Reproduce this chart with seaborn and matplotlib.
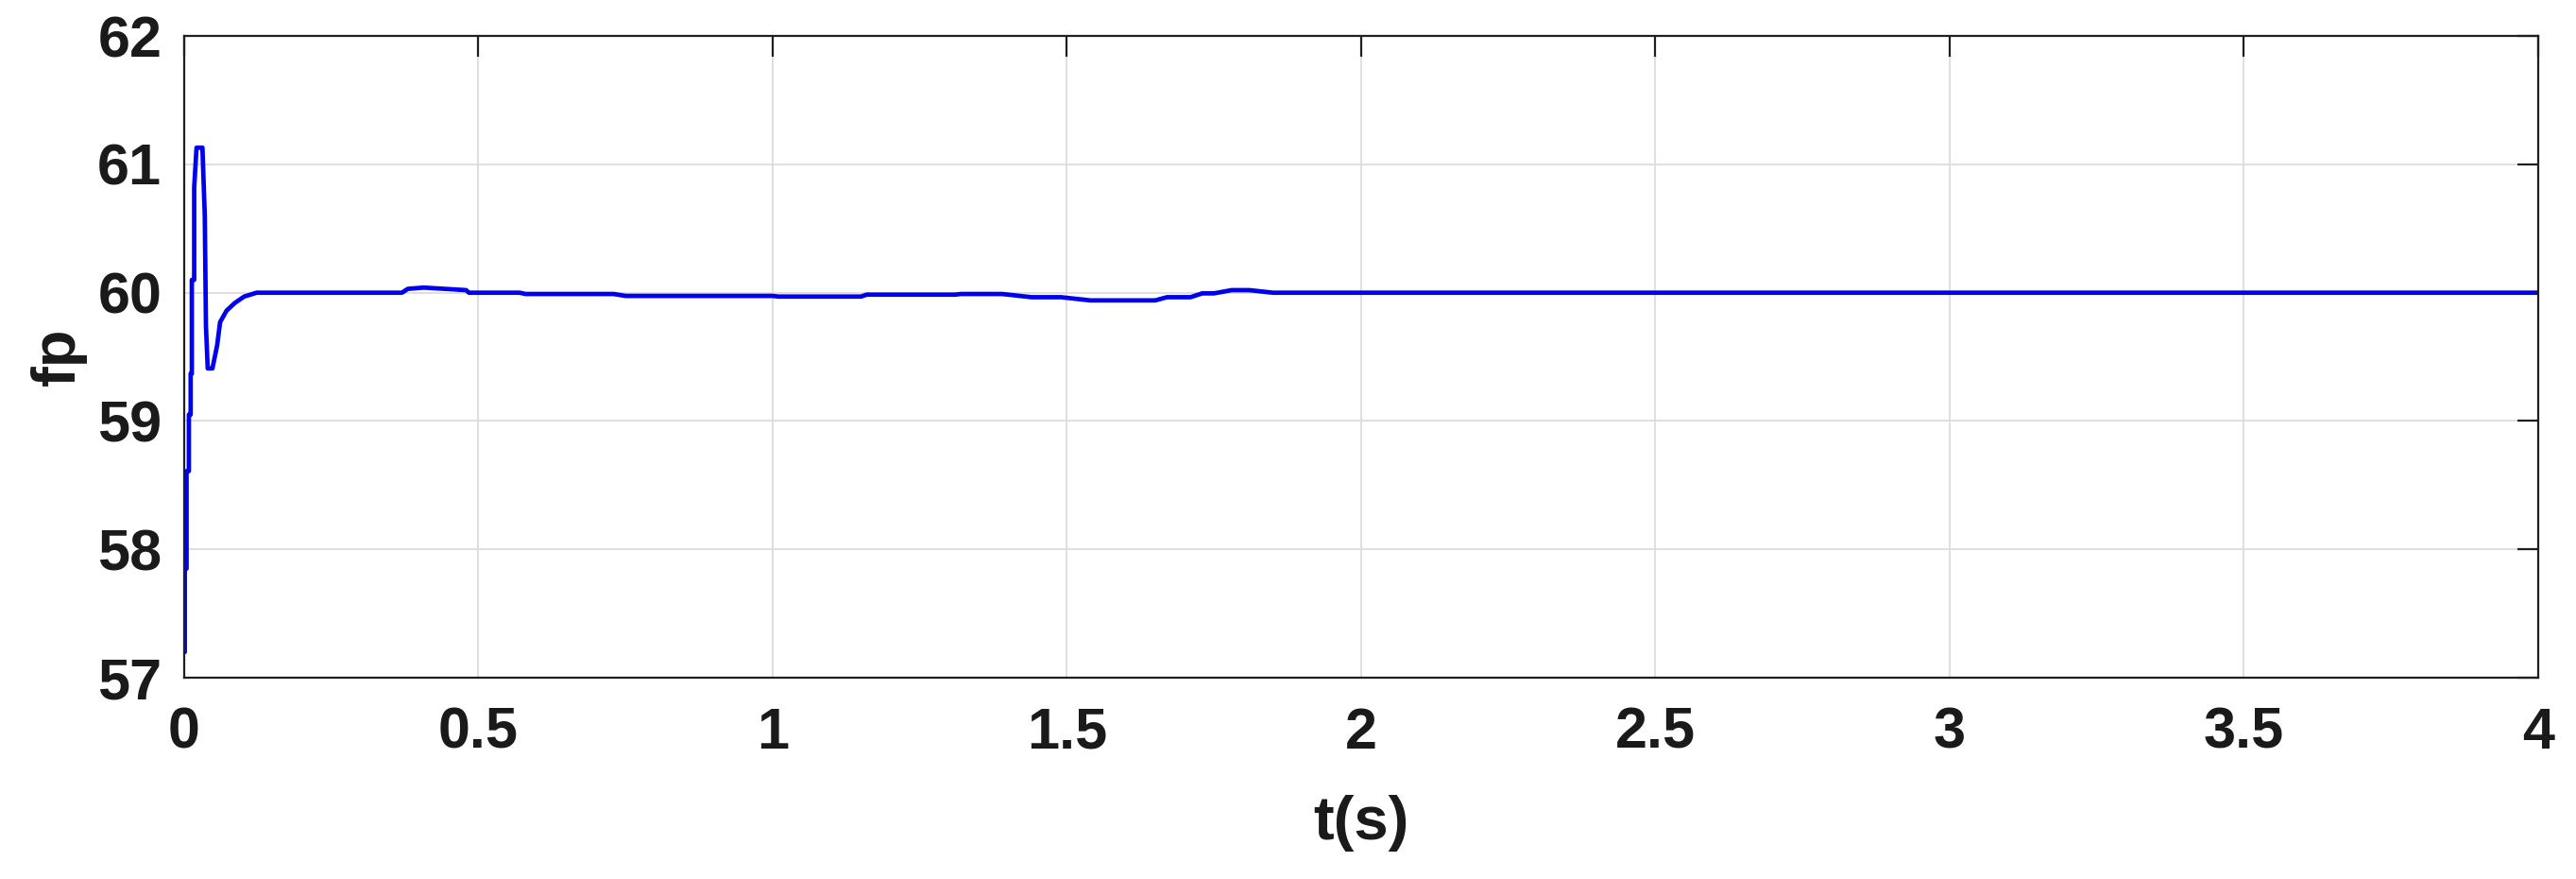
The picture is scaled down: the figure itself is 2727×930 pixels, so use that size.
import numpy as np
import pandas as pd
import matplotlib
matplotlib.use("Agg")
import matplotlib.pyplot as plt
import seaborn as sns

# frequency response (t in s, fp in Hz)
t_vals = [0.0, 0.001, 0.001, 0.004, 0.004, 0.008, 0.008, 0.011, 0.011, 0.013,
          0.013, 0.017, 0.017, 0.021, 0.031, 0.035, 0.037, 0.040, 0.048, 0.056,
          0.061, 0.072, 0.086, 0.102, 0.123, 0.246, 0.37, 0.38, 0.407, 0.479,
          0.484, 0.57, 0.58, 0.73, 0.75, 1.0, 1.01, 1.15, 1.16, 1.31,
          1.32, 1.39, 1.44, 1.49, 1.54, 1.65, 1.67, 1.71, 1.73, 1.75,
          1.78, 1.81, 1.85, 1.92, 2.5, 3.0, 3.5, 4.0]
fp_vals = [57.20, 57.20, 57.85, 57.85, 58.61, 58.61, 59.05, 59.05, 59.37, 59.37,
           60.10, 60.10, 60.82, 61.13, 61.13, 60.60, 59.74, 59.41, 59.41, 59.59,
           59.77, 59.86, 59.92, 59.97, 60.0, 60.0, 60.0, 60.03, 60.04, 60.02,
           60.0, 60.0, 59.99, 59.99, 59.975, 59.975, 59.97, 59.97, 59.985, 59.985,
           59.99, 59.99, 59.965, 59.965, 59.94, 59.94, 59.965, 59.965, 59.995, 59.995,
           60.02, 60.02, 60.0, 60.0, 60.0, 60.0, 60.0, 60.0]

x_ticks = [0, 0.5, 1, 1.5, 2, 2.5, 3, 3.5, 4]
x_ticklabels = ["0", "0.5", "1", "1.5", "2", "2.5", "3", "3.5", "4"]
y_ticks = [57, 58, 59, 60, 61, 62]

df = pd.DataFrame({"t": t_vals, "fp": fp_vals})

sns.set_style("white")
plt.rcParams["font.family"] = ["Liberation Sans", "DejaVu Sans"]

fig = plt.figure(figsize=(27.27, 9.30), dpi=100)
ax = fig.add_axes([0.0715, 0.229, 0.9138, 0.730])

sns.lineplot(data=df, x="t", y="fp", ax=ax, color="#0000f0", linewidth=3.4,
             sort=False, estimator=None)

ax.set_xlim(0, 4)
ax.set_ylim(57, 62)
ax.set_xticks(x_ticks)
ax.set_xticklabels(x_ticklabels)
ax.set_yticks(y_ticks)
ax.grid(True, color="#dcdcdc", linewidth=1.3)
ax.set_axisbelow(True)

for s in ax.spines.values():
    s.set_color("#1f1f1f")
    s.set_linewidth(1.6)
    s.set_visible(True)

ax.tick_params(axis="both", direction="in", length=16, width=1.6, color="#1f1f1f",
               top=True, right=True, labelsize=44, labelcolor="#1a1a1a")
ax.tick_params(axis="x", pad=22)
ax.tick_params(axis="y", pad=17)
for lab in ax.get_xticklabels() + ax.get_yticklabels():
    lab.set_fontweight("bold")

ax.set_xlabel("t(s)", fontsize=47, fontweight="bold", color="#1a1a1a")
ax.set_ylabel("fp", fontsize=47, fontweight="bold", color="#1a1a1a")
ax.xaxis.set_label_coords(0.5, -0.183)
ax.yaxis.set_label_coords(-0.0413, 0.5)

fig.savefig("out.png", dpi=100, facecolor="white")
